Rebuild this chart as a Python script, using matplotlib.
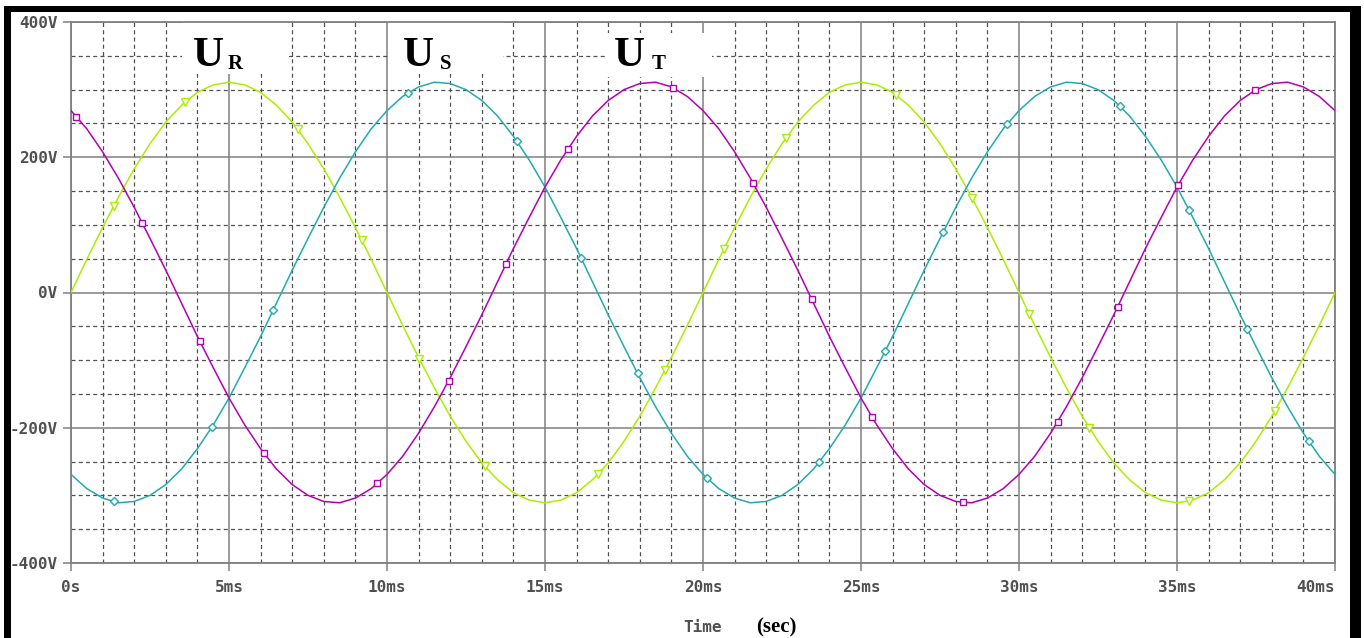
import numpy as np
import matplotlib
matplotlib.use("Agg")
import matplotlib.pyplot as plt
from matplotlib.patches import Rectangle
from matplotlib.ticker import MultipleLocator

# time base in ms, 0.5 ms steps
t_ms = np.arange(0, 40.01, 0.5)

# phase voltages (V)
u_r = [0, 49, 96, 141, 183, 220, 252, 277, 296, 307, 311,
       307, 296, 277, 252, 220, 183, 141, 96, 49, 0,
       -49, -96, -141, -183, -220, -252, -277, -296, -307, -311,
       -307, -296, -277, -252, -220, -183, -141, -96, -49, 0,
       49, 96, 141, 183, 220, 252, 277, 296, 307, 311,
       307, 296, 277, 252, 220, 183, 141, 96, 49, 0,
       -49, -96, -141, -183, -220, -252, -277, -296, -307, -311,
       -307, -296, -277, -252, -220, -183, -141, -96, -49, 0]
u_s = [-269, -290, -304, -311, -309, -300, -284, -261, -231, -196,
       -156, -111, -65, -16, 33, 80, 126, 169, 208, 242,
       269, 290, 304, 311, 309, 300, 284, 261, 231, 196,
       156, 111, 65, 16, -33, -80, -126, -169, -208, -242,
       -269, -290, -304, -311, -309, -300, -284, -261, -231, -196,
       -156, -111, -65, -16, 33, 80, 126, 169, 208, 242,
       269, 290, 304, 311, 309, 300, 284, 261, 231, 196,
       156, 111, 65, 16, -33, -80, -126, -169, -208, -242, -269]
u_t = [269, 242, 208, 169, 126, 80, 33, -16, -65, -111,
       -156, -196, -231, -261, -284, -300, -309, -311, -304, -290,
       -269, -242, -208, -169, -126, -80, -33, 16, 65, 111,
       156, 196, 231, 261, 284, 300, 309, 311, 304, 290,
       269, 242, 208, 169, 126, 80, 33, -16, -65, -111,
       -156, -196, -231, -261, -284, -300, -309, -311, -304, -290,
       -269, -242, -208, -169, -126, -80, -33, 16, 65, 111,
       156, 196, 231, 261, 284, 300, 309, 311, 304, 290, 269]

# marker times (ms) as drawn by the simulator
marks_r = [1.36, 3.62, 7.17, 9.20, 11.02, 13.09, 16.68, 18.80, 20.66,
           22.64, 26.10, 28.51, 30.32, 32.23, 35.39, 38.10]
marks_s = [1.36, 4.46, 6.40, 10.68, 14.11, 16.15, 17.93, 20.12, 23.67,
           25.76, 27.61, 29.63, 33.19, 35.37, 37.22, 39.18]
marks_t = [0.17, 2.26, 4.07, 6.11, 9.69, 11.95, 13.76, 15.74, 19.06,
           21.58, 23.44, 25.36, 28.23, 31.22, 33.12, 35.03, 37.48]

x_ticks = [0, 5, 10, 15, 20, 25, 30, 35, 40]
x_tick_labels = ["0s", "5ms", "10ms", "15ms", "20ms", "25ms", "30ms", "35ms", "40ms"]
y_ticks = [-400, -200, 0, 200, 400]
y_tick_labels = ["-400V", "-200V", "0V", "200V", "400V"]

GREEN = "#aaee00"
TEAL = "#22aab0"
MAGENTA = "#b400b4"
GRID_SOLID = "#808080"
GRID_DASH = "#505050"
LABEL = "#505050"

fig = plt.figure(figsize=(13.64, 6.38), dpi=100, facecolor="white")
ax = fig.add_axes([71 / 1364, 1 - 563 / 638, (1335 - 71) / 1364, (563 - 22) / 638])
ax.set_xlim(0, 40)
ax.set_ylim(-400, 400)

# grid: solid majors, dashed minors
ax.xaxis.set_minor_locator(MultipleLocator(1))
ax.yaxis.set_minor_locator(MultipleLocator(50))
ax.set_xticks(x_ticks, x_tick_labels)
ax.set_yticks(y_ticks, y_tick_labels)
ax.grid(True, which="major", color=GRID_SOLID, linewidth=1.1)
ax.grid(True, which="minor", color=GRID_DASH, linewidth=0.9, linestyle=(0, (3.2, 2.6)))
ax.set_axisbelow(True)

for sp in ax.spines.values():
    sp.set_color(GRID_SOLID)
    sp.set_linewidth(1.3)

mono = dict(family="DejaVu Sans Mono", weight="bold", size=11.5)
ax.tick_params(which="major", length=6, width=1.1, color=GRID_SOLID,
               labelcolor=LABEL)
ax.tick_params(axis="x", which="major", pad=6.5)
ax.tick_params(axis="y", which="major", pad=3.6)
ax.tick_params(which="minor", length=0)
for lab in ax.get_xticklabels() + ax.get_yticklabels():
    lab.set_fontproperties(mono)
# the last time label is kept inside the plot width, as in the original
ax.get_xticklabels()[-1].set_horizontalalignment("right")

# curves with hollow markers
series = [(u_r, marks_r, GREEN, "v", 5.5),
          (u_s, marks_s, TEAL, "D", 4.0),
          (u_t, marks_t, MAGENTA, "s", 5.0)]
for vals, mt, col, mk, ms in series:
    ax.plot(t_ms, vals, color=col, linewidth=1.1, zorder=3)
    ax.plot(mt, np.interp(mt, t_ms, vals), linestyle="none", marker=mk,
            markersize=ms, markerfacecolor="white", markeredgecolor=col,
            markeredgewidth=1.0, zorder=4)

# white patches behind the phase labels (they hide the grid)
for x0, x1, y0, y1 in [(3.51, 6.87, 323, 400), (10.03, 13.67, 323, 400),
                       (16.93, 20.29, 318, 384)]:
    ax.add_patch(Rectangle((x0, y0), x1 - x0, y1 - y0, facecolor="white",
                           edgecolor="none", zorder=1.5))

serif = "Liberation Serif"
for xu, xs, sub in [(3.86, 4.97, "R"), (10.51, 11.68, "S"), (17.18, 18.39, "T")]:
    ax.text(xu, 335, "U", family=serif, weight="bold", size=31,
            ha="left", va="baseline", zorder=5)
    ax.text(xs, 330, sub, family=serif, weight="bold", size=15,
            ha="left", va="baseline", zorder=5)

fig.text(703 / 1364, 1 - 627 / 638, "Time", color=LABEL, ha="center",
         va="center", **mono)
fig.text(776 / 1364, 1 - 632 / 638, "(sec)", family=serif, weight="bold",
         size=15, ha="center", va="baseline")

# black frame bands around the screenshot
for x0, y0, x1, y1 in [(4, 6, 1361, 12), (4, 6, 11, 638), (1350, 6, 1361, 638)]:
    fig.add_artist(Rectangle((x0 / 1364, 1 - y1 / 638), (x1 - x0) / 1364,
                             (y1 - y0) / 638, transform=fig.transFigure,
                             facecolor="black", edgecolor="none", zorder=10))

fig.savefig("out.png", dpi=100, facecolor="white")
